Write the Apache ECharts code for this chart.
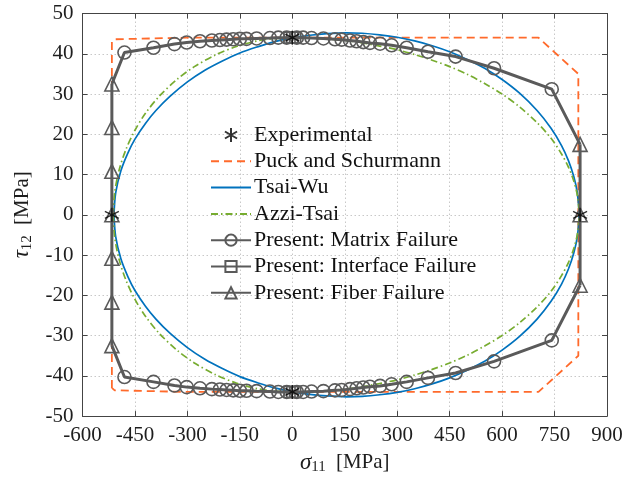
<!DOCTYPE html>
<html><head><meta charset="utf-8">
<script src="https://cdn.jsdelivr.net/npm/echarts@6/dist/echarts.min.js"></script>
<style>html,body{margin:0;padding:0;background:#fff}#c{width:636px;height:480px}</style>
</head><body><div id="c"></div>
<script>
// ---- data ----
const xTicks = [-600,-450,-300,-150,0,150,300,450,600,750,900];
const yTicks = [-50,-40,-30,-20,-10,0,10,20,30,40,50];

const expX = [-516, 823, 0, 0];
const expY = [0, 0, 44, -44];

const puckX = [-516,-516,-508,-300,0,300,704,818,818,704,300,0,-300,-508,-516];
const puckY = [-43,43,43.6,44,44,44,44,35,-35,-44,-44,-44,-44,-43.6,-43];

const tsaiWuX = [-510,-505,-490,-470,-450,-420,-390,-350,-300,-250,-200,-150,-100,-50,0,50,100,155,200,250,300,350,400,450,500,550,600,650,700,740,770,790,805,815,820,
                 815,805,790,770,740,700,650,600,550,500,450,400,350,300,250,200,155,100,50,0,-50,-100,-150,-200,-250,-300,-350,-390,-420,-450,-470,-490,-505,-510];
const tsaiWuY = [0,5.5,11.0,15.4,18.8,22.7,25.9,29.4,33.0,35.9,38.2,40.2,41.7,43.0,44.0,44.6,45.0,45.2,45.1,44.7,44.1,43.2,42.0,40.5,38.6,36.4,33.6,30.2,25.9,21.5,17.2,13.4,9.5,5.5,0,
                 -5.5,-9.5,-13.4,-17.2,-21.5,-25.9,-30.2,-33.6,-36.4,-38.6,-40.5,-42.0,-43.2,-44.1,-44.7,-45.1,-45.2,-45.0,-44.6,-44.0,-43.0,-41.7,-40.2,-38.2,-35.9,-33.0,-29.4,-25.9,-22.7,-18.8,-15.4,-11.0,-5.5,0];

const azziX = [-512,-508,-495,-475,-450,-420,-380,-330,-280,-220,-160,-100,-50,0,50,100,150,200,250,300,350,400,450,500,550,600,650,700,740,770,790,805,815,820,
               815,805,790,770,740,700,650,600,550,500,450,400,350,300,250,200,150,100,50,0,-50,-100,-160,-220,-280,-330,-380,-420,-450,-475,-495,-508,-512];
const azziY = [0,5.5,11.2,16.4,21.0,25.2,29.5,33.6,36.8,39.7,41.8,43.2,43.8,44,43.9,43.7,43.3,42.7,41.9,41.0,39.8,38.4,36.8,34.9,32.6,30.0,26.8,22.9,19.0,15.1,11.8,8.4,4.9,0,
               -4.9,-8.4,-11.8,-15.1,-19.0,-22.9,-26.8,-30.0,-32.6,-34.9,-36.8,-38.4,-39.8,-41.0,-41.9,-42.7,-43.3,-43.7,-43.9,-44,-43.8,-43.2,-41.8,-39.7,-36.8,-33.6,-29.5,-25.2,-21.0,-16.4,-11.2,-5.5,0];

const matrixTopX = [-516,-480,-397,-337,-302,-264,-230,-207,-188,-169,-150,-131,-102,-64,-40,-16,13,31,55,89,122,141,165,184,203,222,251,284,327,388,467,577,742,823];
const matrixTopY = [32.5,40.3,41.5,42.4,42.8,43.1,43.3,43.4,43.5,43.6,43.7,43.7,43.8,43.9,44.0,44.0,44.0,44.0,43.9,43.8,43.6,43.5,43.3,43.1,42.9,42.7,42.5,42.1,41.5,40.5,39.3,36.4,31.2,17.5];
const matrixBotX = [-516,-480,-397,-337,-302,-264,-230,-207,-188,-169,-150,-131,-102,-64,-40,-16,13,31,55,89,122,141,165,184,203,222,251,284,327,388,467,577,742,823];
const matrixBotY = [-32.5,-40.3,-41.5,-42.4,-42.8,-43.1,-43.3,-43.4,-43.5,-43.6,-43.7,-43.7,-43.8,-43.9,-44.0,-44.0,-44.0,-44.0,-43.9,-43.8,-43.6,-43.5,-43.3,-43.1,-42.9,-42.7,-42.5,-42.1,-41.5,-40.5,-39.3,-36.4,-31.2,-17.5];

const interfaceTopX = [-8,0,8];
const interfaceTopY = [44,44,44];
const interfaceBotX = [-8,0,8];
const interfaceBotY = [-44,-44,-44];

const fiberLeftX = [-516,-516,-516,-516,-516,-516,-516];
const fiberLeftY = [32.5,21.7,10.8,0,-10.8,-21.7,-32.5];
const fiberRightX = [823,823,823];
const fiberRightY = [17.5,0,-17.5];

// ---- build ----
const zip = (xs, ys) => xs.map((x, i) => [x, ys[i]]);
const GRAY = '#5a5a5a';
const FONT = 'Liberation Serif';
const TXT = '#1e1e1e';
const CLEAR = 'rgba(0,0,0,0)';

function matrixData() {
  const top = zip(matrixTopX, matrixTopY).map((p, i, a) => (i === 0 || i === a.length - 1) ? {value: p, symbol: 'none'} : p);
  const bot = zip(matrixBotX, matrixBotY).map((p, i, a) => (i === 0 || i === a.length - 1) ? {value: p, symbol: 'none'} : p);
  return top.concat(['-'], bot);
}
const fiberData = zip(fiberLeftX, fiberLeftY).concat(['-'], zip(fiberRightX, fiberRightY));
const interfaceData = zip(interfaceTopX, interfaceTopY).concat(['-'], zip(interfaceBotX, interfaceBotY));

const hollow = {color: 'rgba(255,255,255,0)', borderColor: GRAY, borderWidth: 1.6};
const nameRich = {
  i: {fontFamily: FONT, fontStyle: 'italic', fontSize: 23, color: TXT},
  s: {fontFamily: FONT, fontSize: 15, color: TXT, padding: [10, 5, 0, 0]}
};
const noMark = {color: CLEAR, borderColor: CLEAR, borderWidth: 0};

const chart = echarts.init(document.getElementById('c'), null, {renderer: 'canvas'});
chart.setOption({
  animation: false,
  backgroundColor: '#fff',
  grid: {left: 82.5, right: 29, top: 13.5, bottom: 61, containLabel: false},
  legend: {
    left: 205, top: 119, orient: 'vertical', itemWidth: 40, itemHeight: 14, itemGap: 4.3,
    textStyle: {fontFamily: FONT, fontSize: 22, color: '#111', padding: [0, 0, 0, -2], lineHeight: 22},
    data: [
      {name: 'Experimental'},
      {name: 'Puck and Schurmann', itemStyle: noMark},
      {name: 'Tsai-Wu', itemStyle: noMark},
      {name: 'Azzi-Tsai', itemStyle: noMark},
      {name: 'Present: Matrix Failure'},
      {name: 'Present: Interface Failure'},
      {name: 'Present: Fiber Failure'}
    ]
  },
  xAxis: [{
    type: 'value', min: -600, max: 900, interval: 150,
    axisLine: {show: true, onZero: false, lineStyle: {color: '#444', width: 1}},
    axisTick: {show: true, inside: true, length: 5, lineStyle: {color: '#444'}},
    axisLabel: {fontFamily: FONT, fontSize: 21, color: TXT, margin: 9,
      formatter: v => xTicks.includes(v) ? String(v) : ''},
    splitLine: {show: true, lineStyle: {color: '#c8c8c8', type: [1.5, 2.5], width: 1}},
    name: '{i|σ}{s|11} [MPa]', nameLocation: 'middle', nameGap: 32,
    nameTextStyle: {fontFamily: FONT, fontSize: 21, color: TXT, rich: nameRich}
  }, {
    type: 'value', position: 'top', min: -600, max: 900, interval: 150,
    axisLine: {show: true, onZero: false, lineStyle: {color: '#444', width: 1}},
    axisTick: {show: true, inside: true, length: 5, lineStyle: {color: '#444'}},
    axisLabel: {show: false}, splitLine: {show: false}
  }],
  yAxis: [{
    type: 'value', min: -50, max: 50, interval: 10,
    axisLine: {show: true, onZero: false, lineStyle: {color: '#444', width: 1}},
    axisTick: {show: true, inside: true, length: 5, lineStyle: {color: '#444'}},
    axisLabel: {fontFamily: FONT, fontSize: 21, color: TXT, margin: 9,
      formatter: v => yTicks.includes(v) ? String(v) : ''},
    splitLine: {show: true, lineStyle: {color: '#c8c8c8', type: [1.5, 2.5], width: 1}},
    name: '{i|τ}{s|12} [MPa]', nameLocation: 'middle', nameGap: 48, nameRotate: 90,
    nameTextStyle: {fontFamily: FONT, fontSize: 21, color: TXT, rich: nameRich}
  }, {
    type: 'value', position: 'right', min: -50, max: 50, interval: 10,
    axisLine: {show: true, onZero: false, lineStyle: {color: '#444', width: 1}},
    axisTick: {show: true, inside: true, length: 5, lineStyle: {color: '#444'}},
    axisLabel: {show: false}, splitLine: {show: false}
  }],
  series: [
    {name: 'Puck and Schurmann', type: 'line', data: zip(puckX, puckY), symbol: 'none', z: 2,
     lineStyle: {color: '#FF6A2B', width: 1.8, type: [8, 5]}, itemStyle: noMark},
    {name: 'Tsai-Wu', type: 'line', data: zip(tsaiWuX, tsaiWuY), symbol: 'none', smooth: 0.3, z: 3,
     lineStyle: {color: '#0072BD', width: 1.7}, itemStyle: noMark},
    {name: 'Azzi-Tsai', type: 'line', data: zip(azziX, azziY), symbol: 'none', smooth: 0.3, z: 3,
     lineStyle: {color: '#77AC30', width: 1.7, type: [7, 3, 1.5, 3]}, itemStyle: noMark},
    {name: 'Present: Matrix Failure', type: 'line', data: matrixData(), symbol: 'circle', symbolSize: 13, z: 4,
     lineStyle: {color: GRAY, width: 3}, itemStyle: hollow},
    {name: 'Present: Interface Failure', type: 'line', data: interfaceData, symbol: 'rect', symbolSize: 11, z: 4,
     lineStyle: {color: GRAY, width: 3}, itemStyle: hollow},
    {name: 'Present: Fiber Failure', type: 'line', data: fiberData, symbol: 'triangle', symbolSize: 14, z: 4,
     lineStyle: {color: GRAY, width: 3}, itemStyle: hollow},
    {name: 'Experimental', type: 'scatter', data: zip(expX, expY), z: 6,
     symbol: 'path://M0,-10L0,10M-8.66,-5L8.66,5M-8.66,5L8.66,-5', symbolSize: 14,
     itemStyle: {color: CLEAR, borderColor: '#000', borderWidth: 1.4}}
  ]
});
</script></body></html>
